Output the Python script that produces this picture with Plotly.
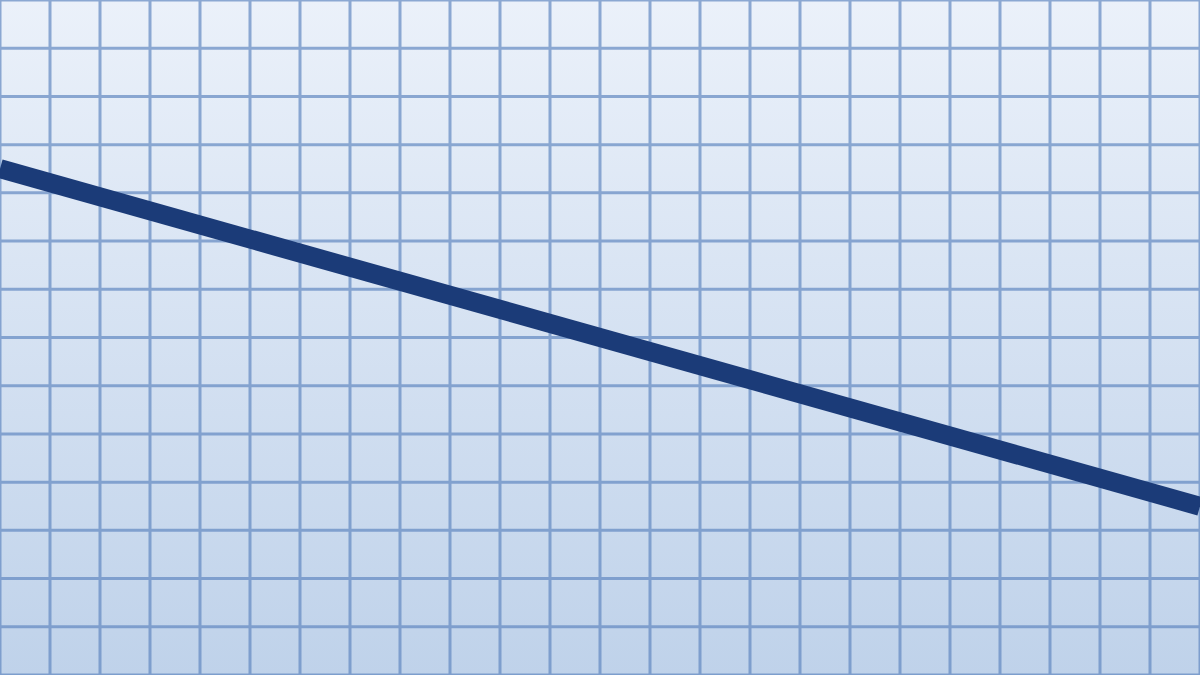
import plotly.graph_objects as go

# data
line_x = [0, 24]
line_y = [10.5, 3.5]

# grid / axis extent
grid_x = list(range(0, 25))
grid_y = list(range(0, 15))

BG_TOP = '#ebf1fa'
BG_BOTTOM = '#bfd2ea'
GRID_COLOR = 'rgb(95,134,192)'
LINE_COLOR = '#1b3b78'

fig = go.Figure()

# Gradient background (drawn as a filled rectangle)
x0, x1 = grid_x[0], grid_x[-1]
y0, y1 = grid_y[0], grid_y[-1]
fig.add_trace(
    go.Scatter(
        x=[x0, x1, x1, x0, x0],
        y=[y0, y0, y1, y1, y0],
        mode='none',
        fill='toself',
        fillgradient=dict(
            type='vertical',
            colorscale=[[0, BG_BOTTOM], [1, BG_TOP]]
        ),
        hoverinfo='skip',
        showlegend=False
    )
)

# Grid lines on top of the background (group opacity: no darker crossings)
gx, gy = [], []
for v in grid_x:
    gx += [v, v, None]
    gy += [y0, y1, None]
for v in grid_y:
    gx += [x0, x1, None]
    gy += [v, v, None]
fig.add_trace(
    go.Scatter(
        x=gx,
        y=gy,
        mode='lines',
        line=dict(color=GRID_COLOR, width=3),
        opacity=0.68,
        hoverinfo='skip',
        showlegend=False,
        cliponaxis=False
    )
)

# Main line
fig.add_trace(
    go.Scatter(
        x=line_x,
        y=line_y,
        mode='lines',
        line=dict(color=LINE_COLOR, width=19),
        showlegend=False
    )
)

fig.update_layout(
    width=1200,
    height=675,
    margin=dict(l=0, r=0, t=0, b=0),
    paper_bgcolor=BG_TOP,
    plot_bgcolor=BG_TOP,
    xaxis=dict(range=[x0, x1], visible=False, fixedrange=True),
    yaxis=dict(range=[y0, y1], visible=False, fixedrange=True),
)

# drop the default page margin so the chart fills the window
fig.write_html(
    "out.html",
    config={'displayModeBar': False},
    post_script="document.body.style.margin='0';document.body.style.overflow='hidden';"
)
